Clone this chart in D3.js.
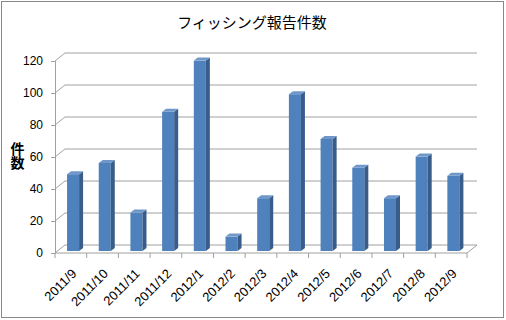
<!DOCTYPE html>
<html lang="ja">
<head>
<meta charset="UTF-8">
<title>フィッシング報告件数</title>
<script src="https://cdn.jsdelivr.net/npm/d3@7/dist/d3.min.js"></script>
<style>
  body { margin: 0; background: #fff; }
  svg { display: block; }
</style>
</head>
<body>
<script>
// data
const months = ["2011/9", "2011/10", "2011/11", "2011/12", "2012/1", "2012/2", "2012/3",
                "2012/4", "2012/5", "2012/6", "2012/7", "2012/8", "2012/9"];
const counts = [48, 55, 24, 87, 119, 9, 33, 98, 70, 52, 33, 59, 47];
const yTicks = [0, 20, 40, 60, 80, 100, 120];
const title = "フィッシング報告件数";
const yTitle = "件数";

const width = 506, height = 320;
const depth = { dx: 10, dy: -8 };   // offset of back wall
const gridColor = "#a0a0a0";

const svg = d3.select("body").append("svg")
    .attr("width", width)
    .attr("height", height);

svg.append("rect")
    .attr("x", 1.5).attr("y", 1.5)
    .attr("width", 502).attr("height", 316)
    .attr("fill", "#fff")
    .attr("stroke", "#888");

const x = d3.scaleBand()
    .domain(months)
    .range([55, 467])
    .padding(0);

const y = d3.scaleLinear()
    .domain([0, 120])
    .range([253, 61]);

const x0 = x.range()[0], x1 = x.range()[1];

// gridlines on the back wall + short diagonals on the side wall
const grid = svg.append("g").attr("stroke", gridColor).attr("fill", "none");
yTicks.forEach(t => {
    if (t === 0) return;
    grid.append("path")
        .attr("d", `M${x0},${y(t)}L${x0 + depth.dx},${y(t) + depth.dy}H${x1 + depth.dx}`);
});
// floor
grid.append("path")
    .attr("d", `M${x0},${y(0)}L${x0 + depth.dx},${y(0) + depth.dy}H${x1 + depth.dx}L${x1},${y(0)}`);

// y axis
const yAxis = svg.append("g")
    .attr("transform", `translate(${x0},0)`)
    .call(d3.axisLeft(y).tickValues(yTicks).tickSize(4).tickPadding(8));
yAxis.selectAll("path, line").attr("stroke", gridColor);
yAxis.selectAll("text")
    .attr("fill", "#000")
    .style("font-family", "'Liberation Sans', Arial, sans-serif")
    .style("font-size", "12px");

// x axis (ticks at band boundaries)
const xa = svg.append("g").attr("stroke", gridColor);
xa.append("line").attr("x1", x0).attr("x2", x1).attr("y1", y(0)).attr("y2", y(0));
months.concat([null]).forEach(m => {
    const px = m === null ? x1 : x(m);
    xa.append("line").attr("x1", px).attr("x2", px).attr("y1", y(0)).attr("y2", y(0) + 5);
});

// 3D-ish columns
const faceOff = x.bandwidth() * 0.38, faceW = x.bandwidth() * 0.38;
const side = { dx: 4, dy: -3 };
const base = -2;  // columns sit slightly behind the front edge
const bars = svg.append("g");
months.forEach((m, i) => {
    const bx = x(m) + faceOff;
    const top = y(counts[i]) + base;
    const bot = y(0) + base;
    bars.append("rect")
        .attr("x", bx).attr("y", top)
        .attr("width", faceW).attr("height", bot - top)
        .attr("fill", "#4f81bd");
    bars.append("path")
        .attr("d", `M${bx + faceW},${top}L${bx + faceW + side.dx},${top + side.dy}V${bot + side.dy}L${bx + faceW},${bot}Z`)
        .attr("fill", "#385d8a");
    bars.append("path")
        .attr("d", `M${bx},${top}L${bx + side.dx},${top + side.dy}H${bx + faceW + side.dx}L${bx + faceW},${top}Z`)
        .attr("fill", "#6f97c9");
});

// x labels
svg.append("g").selectAll("text")
    .data(months)
    .join("text")
    .attr("transform", d => `translate(${x(d) + x.bandwidth() / 2},${y(0) + 15}) rotate(-45)`)
    .attr("text-anchor", "end")
    .attr("dy", "0.7em")
    .style("font-family", "'Liberation Sans', Arial, sans-serif")
    .style("font-size", "13px")
    .attr("fill", "#000")
    .text(d => d);

// title
svg.append("text")
    .attr("x", 252).attr("y", 28)
    .attr("text-anchor", "middle")
    .style("font-family", "'Noto Sans CJK JP', sans-serif")
    .style("font-size", "15px")
    .attr("fill", "#000")
    .text(title);

// y axis title, written vertically
svg.append("text")
    .attr("x", 17.5)
    .attr("y", 156)
    .attr("text-anchor", "middle")
    .style("writing-mode", "vertical-rl")
    .style("font-family", "'Noto Sans CJK JP', sans-serif")
    .style("font-size", "14px")
    .style("font-weight", "bold")
    .attr("fill", "#000")
    .text(yTitle);
</script>
</body>
</html>
